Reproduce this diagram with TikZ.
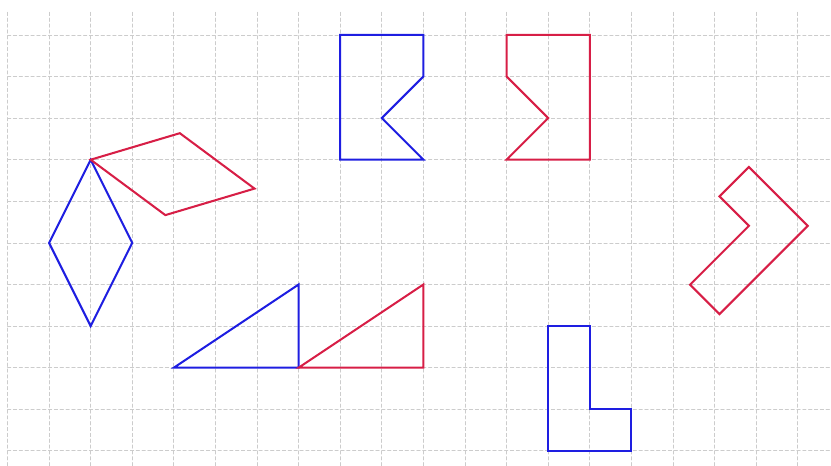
\documentclass[tikz,border=0pt]{standalone}
\begin{document}
\begin{tikzpicture}[
		grid line/.style={gray!40, line width=0.5pt, dash pattern=on 2.3pt off 1.7pt},
		blue fig/.style={draw=figblue, line width=1.4pt},
		red fig/.style={draw=figred, line width=1.4pt},
		line cap=round,
		line join=miter
		]
		\definecolor{figblue}{RGB}{30,30,225}
		\definecolor{figred}{RGB}{215,30,70}
		\useasboundingbox (-0.18,-0.36) rectangle (19.8,10.84);
		
		% ---- сетка ----
		\draw[grid line] (0,-0.36) grid (19.8,10.6);
		
		% ---- ромбы ----
		\coordinate (a) at (2,7);
		\coordinate (b) at (1,5);
		\coordinate (c) at (2,3);
		\coordinate (d) at (3,5);
		\draw[blue fig] (a)--(b)--(c)--(d)--cycle;
		\begin{scope}[rotate around={80:(2,7)}]
			\draw[red fig] (2,7)--(1,5)--(2,3)--(3,5)--cycle;
		\end{scope}
		
		% ---- фигуры вверху ----
		\coordinate (e1) at (8,10);
		\coordinate (e2) at (10,10);
		\coordinate (e3) at (10,9);
		\coordinate (e4) at (9,8);
		\coordinate (e5) at (10,7);
		\coordinate (e6) at (8,7);
		\draw[blue fig] (e1)--(e2)--(e3)--(e4)--(e5)--(e6)--cycle;
		
		\coordinate (f1) at (12,10);
		\coordinate (f2) at (14,10);
		\coordinate (f3) at (14,7);
		\coordinate (f4) at (12,7);
		\coordinate (f5) at (13,8);
		\coordinate (f6) at (12,9);
		\draw[red fig] (f1)--(f2)--(f3)--(f4)--(f5)--(f6)--cycle;
		
		% ---- треугольники ----
		\coordinate (g) at (4,2);
		\coordinate (h) at (7,2);
		\coordinate (i) at (7,4);
		\coordinate (j) at (10,2);
		\coordinate (k) at (10,4);
		\draw[blue fig] (g)--(h)--(i)--cycle;
		\draw[red fig] (h)--(j)--(k)--cycle;
		
		% ---- уголки ----
		\coordinate (l1) at (13,3);
		\coordinate (l2) at (14,3);
		\coordinate (l3) at (14,1);
		\coordinate (l4) at (15,1);
		\coordinate (l5) at (15,0);
		\coordinate (l6) at (13,0);
		\draw[blue fig] (l1)--(l2)--(l3)--(l4)--(l5)--(l6)--cycle;
		
		\begin{scope}[shift={(19.24,5.41)}, rotate=135]
			\draw[red fig] (0,0)--(0,3)--(1,3)--(1,1)--(2,1)--(2,0)--cycle;
		\end{scope}
	\end{tikzpicture}
\end{document}
